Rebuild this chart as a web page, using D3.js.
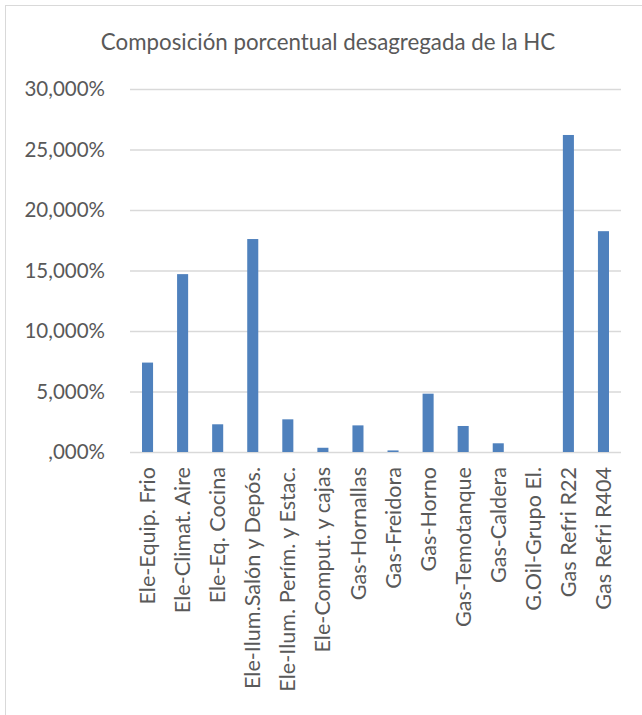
<!DOCTYPE html>
<html><head><meta charset="utf-8">
<script src="https://cdn.jsdelivr.net/npm/d3@7"></script>
<style>body{margin:0;background:#fff}svg{display:block}</style>
</head><body>
<script>
const categories = ["Ele-Equip. Frio","Ele-Climat. Aire","Ele-Eq. Cocina","Ele-Ilum.Salón y Depós.","Ele-Ilum. Perím. y Estac.","Ele-Comput. y cajas","Gas-Hornallas","Gas-Freidora","Gas-Horno","Gas-Temotanque","Gas-Caldera","G.Oil-Grupo El.","Gas Refri R22","Gas Refri R404"];
const values = [7.39, 14.7, 2.29, 17.6, 2.7, 0.35, 2.2, 0.13, 4.82, 2.15, 0.72, 0, 26.2, 18.25];
const yTicks = [0, 5, 10, 15, 20, 25, 30];
const title = "Composición porcentual desagregada de la HC";

const W = 642, H = 715;
const font = "Lato, 'Open Sans', sans-serif";
const svg = d3.select("body").append("svg").attr("width", W).attr("height", H);
svg.append("rect").attr("x", 5.5).attr("y", 5.5).attr("width", W + 10).attr("height", H + 10)
  .attr("fill", "#fff").attr("stroke", "#d9d9d9").attr("stroke-width", 1);

const x = d3.scaleBand().domain(categories).range([130, 621]).paddingInner(0.685).paddingOuter(0.3425);
const y = d3.scaleLinear().domain([0, 30]).range([452, 89]);

const fmt = v => (v === 0 ? "" : d3.format(",")(v)) + ",000%";

svg.append("text").attr("x", 328).attr("y", 50).attr("text-anchor", "middle")
  .attr("font-family", font).attr("font-size", 22.3).attr("fill", "#595959").text(title);

const yAxis = svg.append("g").attr("transform", "translate(130,0)")
  .call(d3.axisLeft(y).tickValues(yTicks).tickSize(-(621 - 130)).tickFormat(fmt));
yAxis.select(".domain").remove();
yAxis.selectAll(".tick line").attr("stroke", "#d9d9d9").attr("stroke-width", 1.3);
yAxis.selectAll(".tick text").attr("x", -25).attr("font-family", font).attr("font-size", 20.5).attr("fill", "#595959");

svg.append("g").selectAll("rect").data(values).join("rect")
  .attr("x", (d, i) => x(categories[i]))
  .attr("width", x.bandwidth())
  .attr("y", d => y(d))
  .attr("height", d => y(0) - y(d))
  .attr("fill", "#4f81bd");

const xAxis = svg.append("g").attr("transform", "translate(0,452)")
  .call(d3.axisBottom(x).tickSize(0));
xAxis.select(".domain").remove();
xAxis.selectAll(".tick text")
  .attr("transform", "rotate(-90)")
  .attr("x", -15).attr("y", 0).attr("dy", "0.35em")
  .attr("text-anchor", "end")
  .attr("font-family", font).attr("font-size", 21.6).attr("fill", "#595959");
</script>
</body></html>
